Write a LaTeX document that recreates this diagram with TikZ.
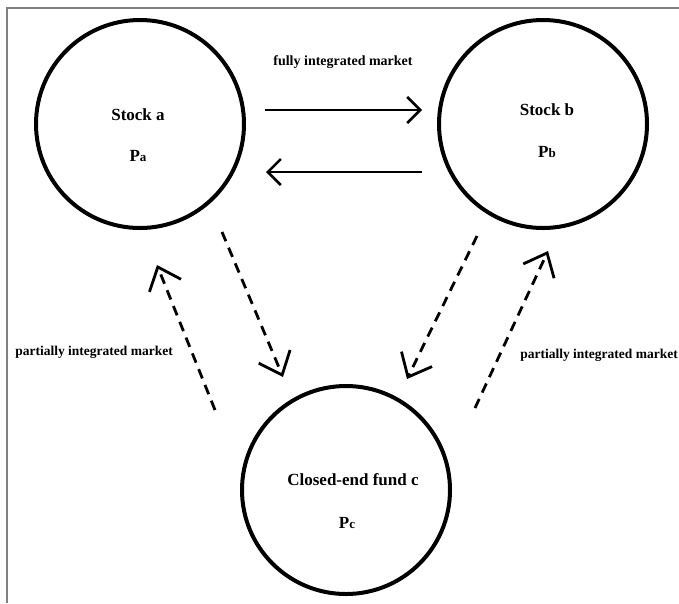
\documentclass[tikz,border=0pt]{standalone}
\usepackage{fontspec}
\setmainfont{Liberation Serif}
\usepackage{xcolor}
\usepackage{tikz}
\usetikzlibrary{arrows.meta,positioning}

\begin{document}
\begin{tikzpicture}
      [ x=1pt, y=-1pt,
        market/.style={circle, draw, line width=4pt, minimum size=208pt, inner sep=0pt},
        assetname/.style={font=\bfseries\fontsize{17}{20}\selectfont},
        marketnote/.style={font=\bfseries\fontsize{13.5}{16}\selectfont},
        fullarrow/.style={line width=2.5pt, -{Straight Barb[length=13pt,width=26pt]}},
        partialarrow/.style={line width=2.8pt, dash pattern=on 10pt off 7pt,
                        -{Straight Barb[length=20pt,width=34pt]}}
      ]
      \useasboundingbox (0,0) rectangle (679,603);
      \draw[gray, line width=1.4pt] (7,603) -- (7,8) -- (679,8);

      \node[market]  (a) at (140,124) {};
      \node[market]  (b) at (543,124) {};
      \node[market]  (c) at (346,490) {};

      \node[assetname] (a_name)  at ([xshift=-2pt,yshift=9pt]a.center)   {Stock a};
      \node[assetname] (a_price) at ([xshift=-2pt,yshift=-32pt]a.center) {P{\fontsize{13}{14}\selectfont a}};
      \node[assetname] (b_name)  at ([xshift=4pt,yshift=14pt]b.center)   {Stock b};
      \node[assetname] (b_price) at ([xshift=4pt,yshift=-28pt]b.center)  {P{\fontsize{13}{14}\selectfont b}};
      \node[assetname] (c_name)  at ([xshift=7pt,yshift=10pt]c.center)   {Closed-end fund c};
      \node[assetname] (c_price) at ([xshift=1pt,yshift=-33pt]c.center)  {P{\fontsize{13}{14}\selectfont c}};

      \node[marketnote,font=\bfseries\fontsize{14}{16}\selectfont] (full) at (343,62) {fully integrated market};
      \node[marketnote] (partial_l)  at (94,352)  {partially integrated market};
      \node[marketnote] (partial_r)  at (599,355) {partially integrated market};

      \coordinate (a_out) at (222,232);
      \coordinate (a_in)  at (157,265);
      \coordinate (b_out) at (477,236);
      \coordinate (b_in)  at (548,251);
      \coordinate (c_in_l)  at (283,377);
      \coordinate (c_out_l) at (215,410);
      \coordinate (c_in_r)  at (407,379);
      \coordinate (c_out_r) at (475,408);

      \draw[fullarrow] ([xshift=19pt,yshift=14pt]a.east) -- ([xshift=-15pt,yshift=14pt]b.west);
      \draw[fullarrow] ([xshift=-15pt,yshift=-48pt]b.west) -- ([xshift=20pt,yshift=-48pt]a.east);

      \path[partialarrow] (a_out)   edge (c_in_l)
                          (c_out_l) edge (a_in)
                          (b_out)   edge (c_in_r)
                          (c_out_r) edge (b_in);
    \end{tikzpicture}
\end{document}
